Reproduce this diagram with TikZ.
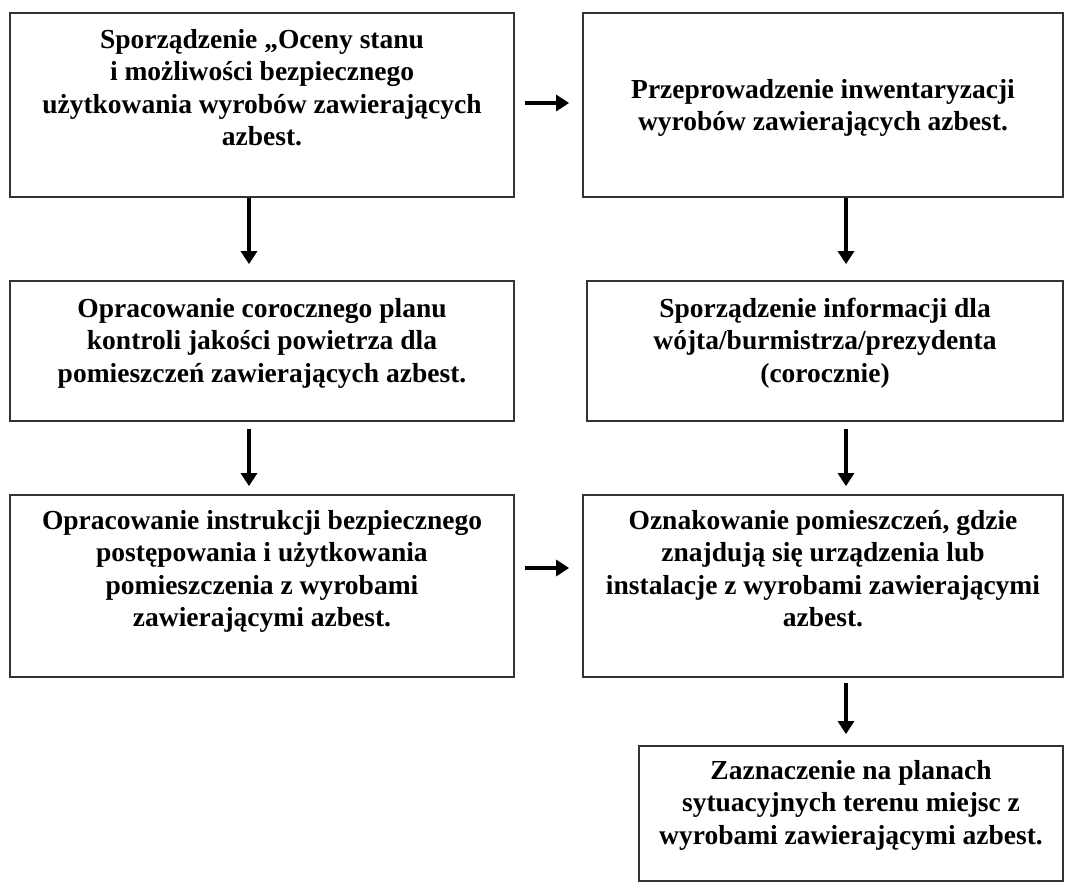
\documentclass[tikz,border=0pt]{standalone}
\usepackage{fontspec}
\setmainfont{Liberation Serif}
\usetikzlibrary{arrows.meta}

\tikzstyle{krok} = [draw=black!80, line width=1.8pt, rectangle, inner sep=0pt,
  font=\bfseries\fontsize{27.5}{32.5}\selectfont]
\tikzstyle{strzalka} = [line width=4.5pt, -{Triangle[length=13pt,width=16pt]}]

% box text: [first baseline]{height}{width}{lines}
\newcommand{\pole}[4][36pt]{\parbox[c][#2][t]{#3}{\centering\rule{0pt}{#1}#4}}

\begin{document}
\begin{tikzpicture}[x=1pt,y=-1pt]
        \useasboundingbox (0,0) rectangle (1070,884);

        \node [krok] (ocena)  at (262,105)   {\pole[35pt]{184pt}{504pt}{Sporządzenie „Oceny stanu\\ i możliwości bezpiecznego\\ użytkowania wyrobów zawierających\\ azbest.}};
        \node [krok] (inwent) at (823,105)   {\pole[85pt]{184pt}{480pt}{Przeprowadzenie inwentaryzacji\\ wyrobów zawierających azbest.}};
        \node [krok] (plan)   at (262,351)   {\pole{140pt}{504pt}{Opracowanie corocznego planu\\ kontroli jakości powietrza dla\\ pomieszczeń zawierających azbest.}};
        \node [krok] (info)   at (825,351)   {\pole{140pt}{476pt}{Sporządzenie informacji dla\\ wójta/burmistrza/prezydenta\\ (corocznie)}};
        \node [krok] (instr)  at (262,586)   {\pole[34pt]{182pt}{504pt}{Opracowanie instrukcji bezpiecznego\\ postępowania i użytkowania\\ pomieszczenia z wyrobami\\ zawierającymi azbest.}};
        \node [krok] (oznak)  at (823,586)   {\pole[34pt]{182pt}{480pt}{Oznakowanie pomieszczeń, gdzie\\ znajdują się urządzenia lub\\ instalacje z wyrobami zawierającymi\\ azbest.}};
        \node [krok] (zazn)   at (851,813.5) {\pole[33pt]{135pt}{424pt}{Zaznaczenie na planach\\ sytuacyjnych terenu miejsc z\\ wyrobami zawierającymi azbest.}};

        \draw[strzalka, shorten <=10pt, shorten >=13pt] ([yshift=2pt]ocena.east) -- ([yshift=2pt]ocena.east -| inwent.west);
        \draw[strzalka, shorten <=10pt, shorten >=13pt] ([yshift=18pt]instr.east) -- ([yshift=18pt]instr.east -| oznak.west);
        \draw[strzalka, shorten >=16pt] ([xshift=-13pt]ocena.south) -- ([xshift=-13pt]ocena.south |- plan.north);
        \draw[strzalka, shorten <=7pt, shorten >=8pt] ([xshift=-13pt]plan.south) -- ([xshift=-13pt]plan.south |- instr.north);
        \draw[strzalka, shorten >=16pt] ([xshift=23pt]inwent.south) -- ([xshift=23pt]inwent.south |- info.north);
        \draw[strzalka, shorten <=7pt, shorten >=8pt] ([xshift=21pt]info.south) -- ([xshift=21pt]info.south |- oznak.north);
        \draw[strzalka, shorten <=5pt, shorten >=11pt] ([xshift=23pt]oznak.south) -- ([xshift=23pt]oznak.south |- zazn.north);
\end{tikzpicture}
\end{document}
